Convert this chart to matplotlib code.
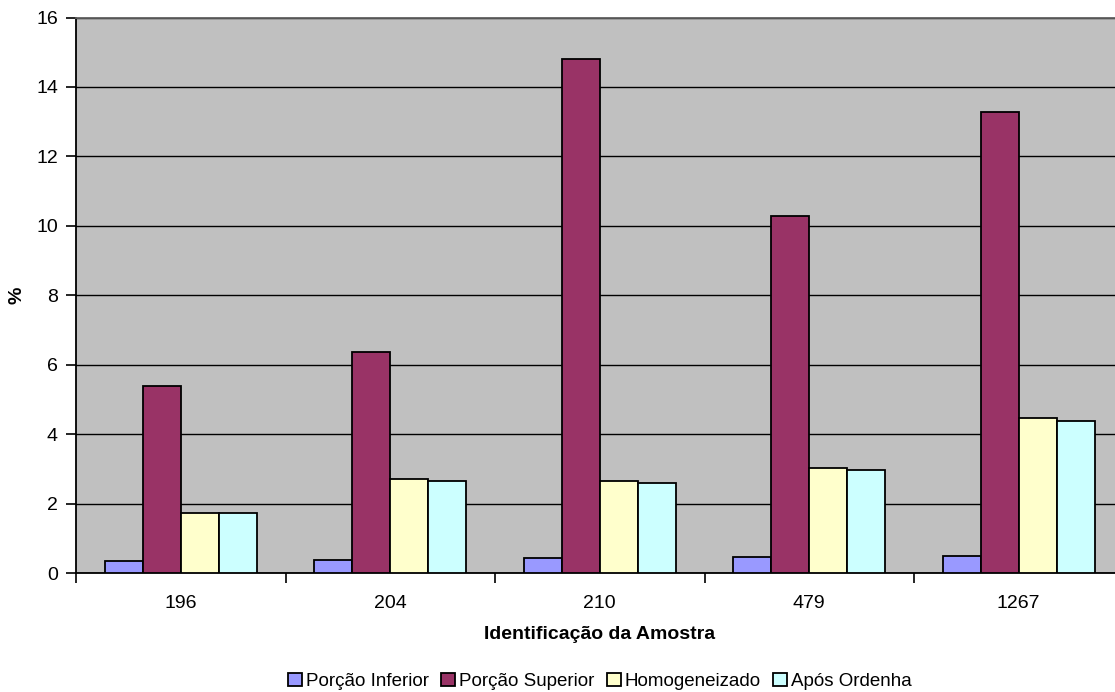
import numpy as np
import matplotlib.pyplot as plt

plt.rcParams['font.family'] = ['Liberation Sans', 'DejaVu Sans']

# sample ids and the four series (%)
amostras = ['196', '204', '210', '479', '1267']
inferior = [0.35, 0.38, 0.42, 0.47, 0.48]
superior = [5.39, 6.37, 14.80, 10.27, 13.29]
homogeneizado = [1.73, 2.71, 2.65, 3.02, 4.46]
apos_ordenha = [1.72, 2.66, 2.58, 2.97, 4.39]

series = [
    ('Porção Inferior', inferior, '#9999FF'),
    ('Porção Superior', superior, '#993366'),
    ('Homogeneizado', homogeneizado, '#FFFFCC'),
    ('Após Ordenha', apos_ordenha, '#CCFFFF'),
]

fig = plt.figure(figsize=(11.15, 6.92), dpi=100)
ax = fig.add_axes([76 / 1115, 119 / 692, 1047.5 / 1115, 555.5 / 692])
ax.set_facecolor('#C0C0C0')

x = np.arange(len(amostras))
w = 1 / 5.5
for i, (nome, vals, cor) in enumerate(series):
    ax.bar(x + (i - 1.5) * w, vals, w, color=cor, edgecolor='black',
           linewidth=1.3, label=nome, zorder=3)

ax.set_xlim(-0.5, len(amostras) - 0.5)
ax.set_ylim(0, 16)
ax.set_yticks(range(0, 17, 2))
ax.yaxis.grid(True, color='black', linewidth=1.0, zorder=1)
ax.set_axisbelow(True)

# category boundaries get tick marks, centers get the labels
ax.set_xticks(np.arange(-0.5, len(amostras) + 0.5, 1))
ax.set_xticklabels([])
ax.set_xticks(x, minor=True)
ax.set_xticklabels(amostras, minor=True)
ax.tick_params(axis='x', which='major', length=7, width=1.2, color='black')
ax.tick_params(axis='x', which='minor', length=0, pad=16, labelsize=14)
ax.tick_params(axis='y', length=7, width=1.2, labelsize=14, pad=6)

for lado in ['left', 'bottom']:
    ax.spines[lado].set_color('black')
    ax.spines[lado].set_linewidth(1.3)
ax.spines['top'].set_color('#606060')
ax.spines['top'].set_linewidth(1.3)
ax.spines['right'].set_visible(False)

ax.set_xlabel('Identificação da Amostra', fontsize=14, fontweight='bold', labelpad=10)
ax.set_ylabel('%', fontsize=14, fontweight='bold')
ax.yaxis.set_label_coords(-0.048, 0.5)

fig.legend(loc='lower center', bbox_to_anchor=(0.538, -0.008), ncol=4, frameon=False,
           fontsize=13.5, handlelength=0.75, handleheight=0.75, handletextpad=0.2,
           columnspacing=0.65, borderaxespad=0.0)

fig.savefig('out.png', dpi=100)
